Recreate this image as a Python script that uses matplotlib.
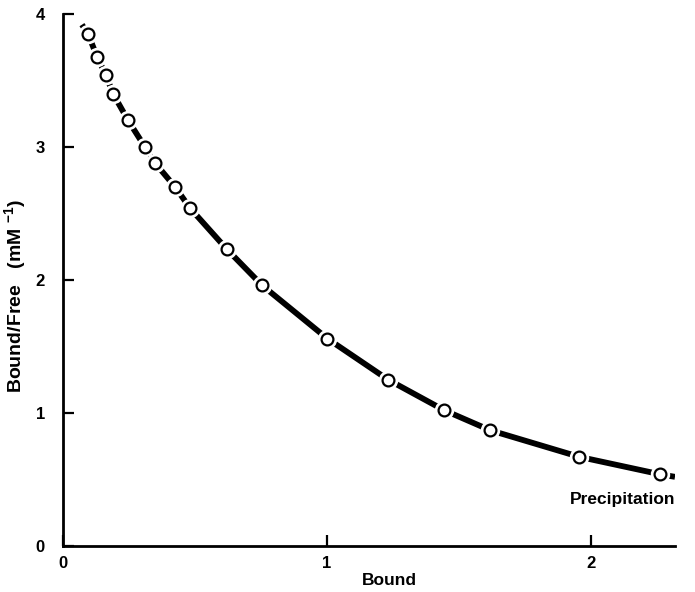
import numpy as np
import matplotlib
matplotlib.use("Agg")
import matplotlib.pyplot as plt

plt.rcParams['font.family'] = ['Liberation Sans', 'DejaVu Sans']
plt.rcParams['font.weight'] = 'bold'
plt.rcParams['mathtext.fontset'] = 'custom'
plt.rcParams['mathtext.rm'] = 'Liberation Sans:bold'
plt.rcParams['mathtext.bf'] = 'Liberation Sans:bold'

# measured points (open circles)
bound = [0.095, 0.129, 0.163, 0.190, 0.247, 0.311, 0.349, 0.425, 0.482,
         0.622, 0.755, 1.002, 1.233, 1.446, 1.620, 1.958, 2.262]
bound_free = [3.85, 3.68, 3.54, 3.40, 3.20, 3.00, 2.88, 2.70, 2.54,
              2.23, 1.96, 1.56, 1.25, 1.02, 0.87, 0.67, 0.54]

# fitted curve ends a bit beyond the first and last points
curve_start = (0.072, 3.92)
curve_end = (2.32, 0.52)

x_ticks = [0, 1, 2]
y_ticks = [0, 1, 2, 3, 4]

fig = plt.figure(figsize=(6.95, 5.92), dpi=100)
ax = fig.add_axes([0.0906, 0.0777, 0.8806, 0.8986])

cx = [curve_start[0]] + bound + [curve_end[0]]
cy = [curve_start[1]] + bound_free + [curve_end[1]]
ax.plot(cx, cy, color='black', lw=4.2, solid_capstyle='butt', zorder=2)
# white halo so the line looks broken at each point
ax.plot(bound, bound_free, 'o', ms=13, mfc='white', mec='white', zorder=3)
ax.plot(bound, bound_free, 'o', ms=8.5, mfc='white', mec='black', mew=1.6, zorder=4)

ax.set_xlim(0, 2.32)
ax.set_ylim(0, 4)
ax.set_xticks(x_ticks)
ax.set_yticks(y_ticks)
ax.spines['top'].set_visible(False)
ax.spines['right'].set_visible(False)
for s in ['left', 'bottom']:
    ax.spines[s].set_linewidth(2.0)
ax.tick_params(axis='both', direction='in', length=8, width=1.6, labelsize=12)
ax.tick_params(axis='y', pad=13)
ax.tick_params(axis='x', pad=7)

ax.set_xlabel('Bound', fontsize=12.5, fontweight='bold')
ax.xaxis.set_label_coords(0.534, -0.064)
ax.xaxis.label.set_va('center')
ax.set_ylabel(r'Bound/Free   (mM $^{-1}$)', fontsize=14, fontweight='bold')
ax.yaxis.set_label_coords(-0.0775, 0.47)
ax.yaxis.label.set_va('center')

ax.text(2.32, 0.35, 'Precipitation', ha='right', va='center',
        fontsize=12.5, fontweight='bold')

fig.savefig('out.png', dpi=100)
